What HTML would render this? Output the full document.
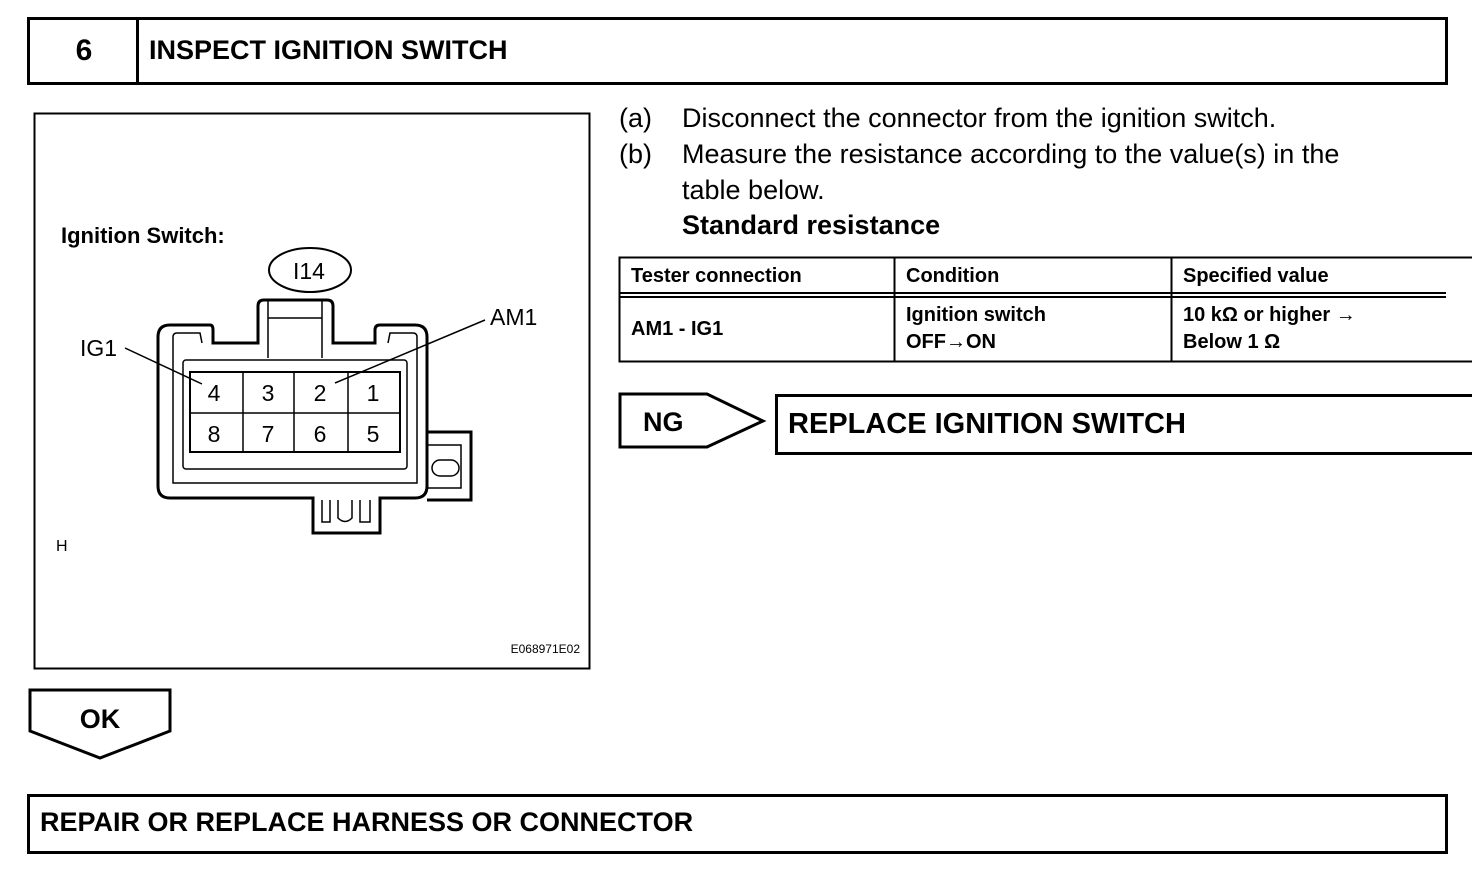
<!DOCTYPE html>
<html><head><meta charset="utf-8"><style>
html,body{margin:0;padding:0;background:#fff;}
svg{display:block;}
text{font-family:"Liberation Sans",Arial,sans-serif;fill:#000;}
</style></head><body>
<svg width="1472" height="886" viewBox="0 0 1472 886" xmlns="http://www.w3.org/2000/svg">
<!-- header -->
<rect x="28.5" y="18.5" width="1418" height="65" fill="none" stroke="#000" stroke-width="3"/>
<line x1="137.5" y1="18" x2="137.5" y2="84" stroke="#000" stroke-width="3"/>
<text x="84" y="60" font-size="30" font-weight="bold" text-anchor="middle">6</text>
<text x="149" y="59" font-size="27" font-weight="bold">INSPECT IGNITION SWITCH</text>

<!-- diagram box -->
<rect x="34.5" y="113.5" width="555" height="555" fill="none" stroke="#000" stroke-width="2"/>
<text x="61" y="243" font-size="22" font-weight="bold">Ignition Switch:</text>
<ellipse cx="310" cy="270" rx="41" ry="22" fill="none" stroke="#000" stroke-width="2"/>
<text x="309" y="279" font-size="23" text-anchor="middle">I14</text>
<text x="80" y="356" font-size="23">IG1</text>
<text x="490" y="325" font-size="23">AM1</text>
<text x="56" y="551" font-size="16">H</text>
<text x="580" y="653" font-size="12" text-anchor="end">E068971E02</text>

<!-- connector -->
<g fill="none" stroke="#000">
<path d="M170 325 L210 325 Q213 325 213 330 L213 343 L258 343 L258 306 Q258 300 264 300 L327 300 Q333 300 333 306 L333 343 L375 343 L375 330 Q375 325 380 325 L415 325 Q427 325 427 337 L427 486 Q427 498 415 498 L380 498 L380 533 L313 533 L313 498 L170 498 Q158 498 158 486 L158 337 Q158 325 170 325 Z" stroke-width="3"/>
<path d="M173 343 L173 483 L417 483 L417 343" stroke-width="1.5"/>
<path d="M173 343 L173 337 Q173 333 177 333 L200 333 L202 343" stroke-width="1.5"/>
<path d="M417 343 L417 337 Q417 333 413 333 L390 333 L388 343" stroke-width="1.5"/>
<path d="M268 300 L268 358 M322 300 L322 358 M268 318 L322 318" stroke-width="1.5"/>
<rect x="183" y="360" width="224" height="109" rx="3" stroke-width="1.5"/>
<rect x="190" y="372" width="210" height="80" stroke-width="2"/>
<line x1="190" y1="413" x2="400" y2="413" stroke-width="1.5"/>
<line x1="243" y1="372" x2="243" y2="452" stroke-width="1.5"/>
<line x1="294" y1="372" x2="294" y2="452" stroke-width="1.5"/>
<line x1="348" y1="372" x2="348" y2="452" stroke-width="1.5"/>
<path d="M427 432 L471 432 L471 500 L427 500" stroke-width="3"/>
<path d="M427 445 L461 445 L461 488 L427 488" stroke-width="1.5"/>
<rect x="432" y="460" width="27" height="16" rx="8" stroke-width="1.5"/>
<path d="M322 500 L322 522 L330 522 L330 500 M338 500 L338 518 Q345 525 352 518 L352 500 M360 500 L360 522 L370 522 L370 500" stroke-width="1.5"/>
<line x1="125" y1="348" x2="202" y2="384" stroke-width="1.5"/>
<line x1="485" y1="320" x2="335" y2="383" stroke-width="1.5"/>
</g>
<g font-size="23" text-anchor="middle">
<text x="214" y="401">4</text><text x="268" y="401">3</text><text x="320" y="401">2</text><text x="373" y="401">1</text>
<text x="214" y="442">8</text><text x="268" y="442">7</text><text x="320" y="442">6</text><text x="373" y="442">5</text>
</g>

<!-- instructions -->
<g font-size="27">
<text x="619" y="127">(a)</text><text x="682" y="127">Disconnect the connector from the ignition switch.</text>
<text x="619" y="163">(b)</text><text x="682" y="163">Measure the resistance according to the value(s) in the</text>
<text x="682" y="199">table below.</text>
<text x="682" y="234" font-weight="bold">Standard resistance</text>
</g>

<!-- table -->
<g stroke="#000" fill="none">
<rect x="619.5" y="257.5" width="1826" height="104" stroke-width="2"/>
<line x1="619" y1="293" x2="1446" y2="293" stroke-width="2"/>
<line x1="619" y1="297" x2="1446" y2="297" stroke-width="2"/>
<line x1="894.5" y1="257" x2="894.5" y2="362" stroke-width="2"/>
<line x1="1171.5" y1="257" x2="1171.5" y2="362" stroke-width="2"/>
</g>
<g font-size="20" font-weight="bold">
<text x="631" y="282">Tester connection</text>
<text x="906" y="282">Condition</text>
<text x="1183" y="282">Specified value</text>
<text x="631" y="335">AM1 - IG1</text>
<text x="906" y="321">Ignition switch</text>
<text x="906" y="348">OFF→ON</text>
<text x="1183" y="321">10 kΩ or higher →</text>
<text x="1183" y="348">Below 1 Ω</text>
</g>

<!-- NG -->
<path d="M620 394 L707 394 L763 421 L707 447 L620 447 Z" fill="none" stroke="#000" stroke-width="3"/>
<text x="643" y="431" font-size="27" font-weight="bold">NG</text>
<rect x="776.5" y="395.5" width="1669" height="58" fill="none" stroke="#000" stroke-width="3"/>
<text x="788" y="433" font-size="29" font-weight="bold">REPLACE IGNITION SWITCH</text>

<!-- OK -->
<path d="M30 690 L170 690 L170 731 L100 758 L30 731 Z" fill="none" stroke="#000" stroke-width="3"/>
<text x="100" y="728" font-size="27" font-weight="bold" text-anchor="middle">OK</text>

<!-- bottom -->
<rect x="28.5" y="795.5" width="1418" height="57" fill="none" stroke="#000" stroke-width="3"/>
<text x="40" y="831" font-size="27" font-weight="bold">REPAIR OR REPLACE HARNESS OR CONNECTOR</text>
</svg>
</body></html>
